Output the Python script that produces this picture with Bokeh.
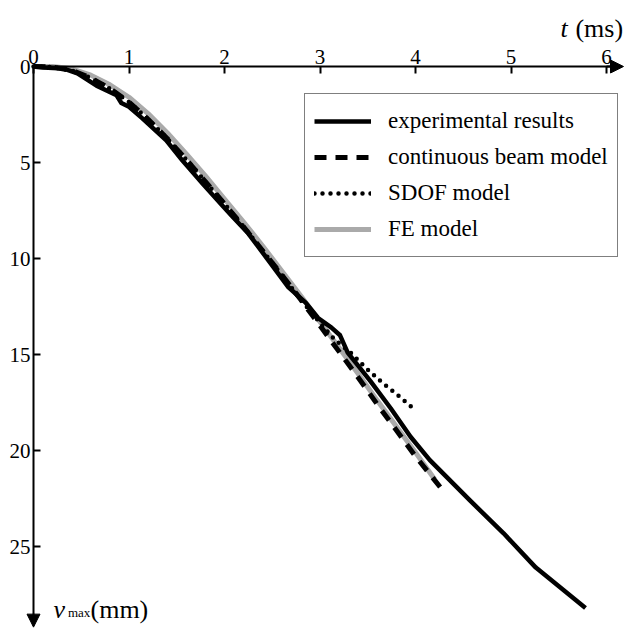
from bokeh.plotting import figure
from bokeh.embed import file_html
from bokeh.resources import INLINE
from bokeh.models import Range1d, Legend, LegendItem, Label, Arrow, NormalHead, FixedTicker

# ---- data ----
exp_t = [0, 0.1, 0.31, 0.46, 0.66, 0.87, 0.92, 1.0, 1.14, 1.39, 1.56, 1.77, 1.97, 2.08,
         2.25, 2.46, 2.67, 2.85, 2.98, 3.12, 3.21, 3.29, 3.53, 3.74, 3.95, 4.15, 4.33,
         4.57, 4.92, 5.26, 5.78]
exp_v = [0, 0.05, 0.1, 0.36, 1.0, 1.5, 1.9, 2.1, 2.7, 3.85, 4.9, 6.1, 7.2, 7.8,
         8.7, 10.1, 11.5, 12.3, 13.1, 13.6, 14.0, 14.9, 16.4, 17.8, 19.3, 20.5, 21.4,
         22.6, 24.3, 26.1, 28.2]

beam_t = [0, 0.2, 0.4, 0.6, 0.8, 1.0, 1.2, 1.4, 1.6, 1.8, 2.0, 2.2, 2.4, 2.6, 2.8,
          3.0, 3.2, 3.4, 3.6, 3.8, 4.0, 4.29]
beam_v = [0, 0.03, 0.2, 0.6, 1.15, 1.85, 2.75, 3.75, 4.85, 6.0, 7.15, 8.35, 9.6, 10.85,
          12.15, 13.5, 14.85, 16.2, 17.6, 18.95, 20.3, 22.1]

sdof_t = [0, 0.2, 0.4, 0.6, 0.8, 1.0, 1.2, 1.4, 1.6, 1.8, 2.0, 2.2, 2.4, 2.6, 2.8,
          3.0, 3.15, 3.32, 3.48, 3.66, 3.81, 4.0]
sdof_v = [0, 0.03, 0.2, 0.6, 1.15, 1.85, 2.75, 3.75, 4.85, 6.0, 7.15, 8.35, 9.6, 10.85,
          12.15, 13.35, 14.2, 14.9, 15.7, 16.5, 17.1, 17.9]

fe_t = [0, 0.2, 0.4, 0.6, 0.8, 1.0, 1.2, 1.4, 1.6, 1.8, 2.0, 2.2, 2.4, 2.6, 2.8,
        3.0, 3.2, 3.4, 3.6, 3.8, 4.0, 4.2]
fe_v = [0, 0.0, 0.12, 0.45, 0.95, 1.6, 2.45, 3.45, 4.55, 5.7, 6.9, 8.1, 9.35, 10.65,
        11.95, 13.3, 14.65, 16.0, 17.4, 18.75, 20.1, 21.5]

x_ticks = [0, 1, 2, 3, 4, 5, 6]
y_ticks = [0, 5, 10, 15, 20, 25]

labels = ["experimental results", "continuous beam model", "SDOF model", "FE model"]

FONT = "Liberation Serif"

W, H = 624, 628
X0_PX, Y0_PX = 33, 66          # pixel position of the origin
SX, SY = 95.5, 19.2            # px per ms, px per mm
x_start = -X0_PX / SX
x_end = x_start + W / SX
y_top = -Y0_PX / SY
y_bottom = y_top + H / SY

p = figure(width=W, height=H,
           x_range=Range1d(x_start, x_end), y_range=Range1d(y_bottom, y_top),
           x_axis_location="above", y_axis_location="left",
           output_backend="svg", toolbar_location=None,
           min_border_left=0, min_border_top=0,
           min_border_right=0, min_border_bottom=0)
p.grid.visible = False
p.outline_line_color = None
p.background_fill_color = "white"
p.border_fill_color = "white"

for ax, ticks, bnds in ((p.xaxis[0], x_ticks, (0, 6.16)), (p.yaxis[0], y_ticks, (0, 29.1))):
    ax.ticker = FixedTicker(ticks=ticks)
    ax.fixed_location = 0
    ax.bounds = bnds
    ax.major_tick_in = 7
    ax.major_tick_out = 0
    ax.minor_tick_in = 0
    ax.minor_tick_out = 0
    ax.axis_line_width = 2
    ax.axis_line_color = "black"
    ax.major_tick_line_width = 2
    ax.major_tick_line_color = "black"
    ax.major_label_text_font = FONT
    ax.major_label_text_font_size = "21px"
    ax.major_label_text_color = "black"
    ax.major_label_standoff = 3

r_fe = p.line(fe_t, fe_v, line_color="#aaaaaa", line_width=5)
r_beam = p.line(beam_t, beam_v, line_color="black", line_width=5, line_dash="12 9")
r_sdof = p.line(sdof_t, sdof_v, line_color="black", line_width=4.5, line_dash="0 8",
                line_cap="round")
r_exp = p.line(exp_t, exp_v, line_color="black", line_width=4.5, line_join="round")

legend = Legend(items=[LegendItem(label=labels[0], renderers=[r_exp]),
                       LegendItem(label=labels[1], renderers=[r_beam]),
                       LegendItem(label=labels[2], renderers=[r_sdof]),
                       LegendItem(label=labels[3], renderers=[r_fe])],
                location=(304, 371), orientation="vertical",
                glyph_width=57, glyph_height=36, label_height=36, spacing=0,
                padding=9, margin=0, label_standoff=17,
                label_text_font=FONT, label_text_font_size="23px",
                label_text_color="black",
                border_line_color="black", border_line_width=1.5,
                background_fill_color="white", background_fill_alpha=1.0)
p.add_layout(legend)

# axis arrows
p.add_layout(Arrow(end=NormalHead(size=13, fill_color="black", line_color="black"),
                   x_start=6.0, y_start=0, x_end=6.178, y_end=0, line_width=2))
p.add_layout(Arrow(end=NormalHead(size=13, fill_color="black", line_color="black"),
                   x_start=0, y_start=28.5, x_end=0, y_end=29.2, line_width=2))

# axis titles
title_kw = dict(text_font=FONT, text_color="black", text_baseline="alphabetic")
p.add_layout(Label(x=5.518, y=-1.98, text="t", text_font_style="italic",
                   text_font_size="26px", **title_kw))
p.add_layout(Label(x=5.675, y=-1.98, text="(ms)", text_font_size="26px", **title_kw))
p.add_layout(Label(x=0.209, y=28.3, text="v", text_font_style="italic",
                   text_font_size="26px", **title_kw))
p.add_layout(Label(x=0.36, y=28.45, text="max", text_font_size="13px", **title_kw))
p.add_layout(Label(x=0.597, y=28.3, text="(mm)", text_font_size="26px", **title_kw))

open("out.html", "w").write(file_html(p, INLINE))
